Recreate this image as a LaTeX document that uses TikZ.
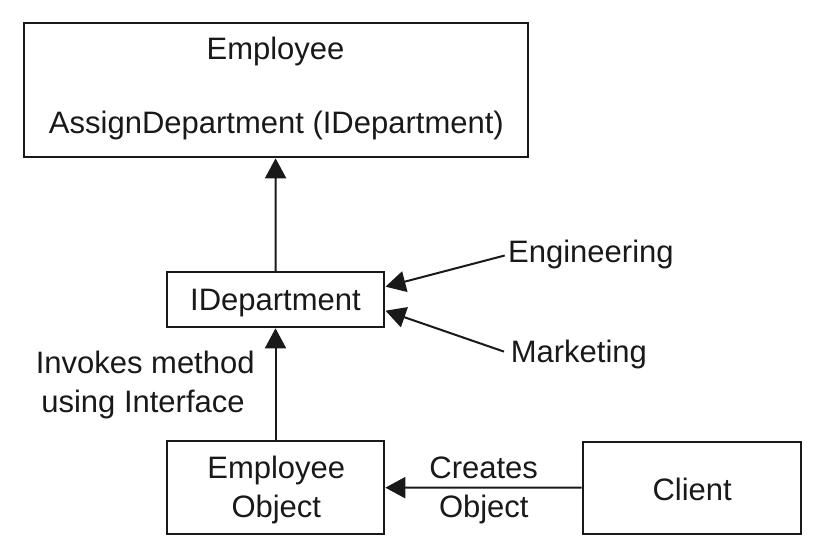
\documentclass[tikz,border=0pt]{standalone}
\usepackage{fontspec}
\setmainfont{Liberation Sans}
\usetikzlibrary{arrows.meta}
\begin{document}
\begin{tikzpicture}[x=1pt,y=-1pt,
  box/.style={draw=black!90, line width=2pt, rectangle, inner sep=0pt},
  txt/.style={anchor=base, inner sep=0pt, font=\fontsize{31}{37}\selectfont, text=black!90},
  arr/.style={line width=2pt, draw=black!90, -{Triangle[length=20pt,width=21pt]}}]
\useasboundingbox (0,0) rectangle (824,558);
% boxes
\node[box, minimum width=504pt, minimum height=134.6pt] (emp) at (275.6,90) {};
\node[box, minimum width=217.6pt, minimum height=55.3pt] (idept) at (275.5,299.65) {};
\node[box, minimum width=217.6pt, minimum height=92.7pt] (eobj) at (275.5,487.65) {};
\node[box, minimum width=218.6pt, minimum height=92pt] (client) at (692,487.7) {};
% texts
\node[txt] (empT) at (275.5,59.5) {Employee};
\node[txt] (assignT) at (276.4,133) {AssignDepartment (IDepartment)};
\node[txt] (ideptT) at (275.5,310.6) {IDepartment};
\node[txt] (eobjT1) at (276.3,478) {Employee};
\node[txt] (eobjT2) at (276.3,517) {Object};
\node[txt] (clientT) at (692.2,500) {Client};
\node[txt] (creT1) at (483.7,478) {Creates};
\node[txt] (creT2) at (483.8,517) {Object};
\node[txt] (invT1) at (145.2,373) {Invokes method};
\node[txt] (invT2) at (143,412.5) {using Interface};
\node[txt, anchor=base west] (eng) at (508,262) {Engineering};
\node[txt, anchor=base west] (mkt) at (510.6,362) {Marketing};
% connector end coordinates
\coordinate (engS) at (504.7,255.5);
\coordinate (mktS) at (504,351.6);
\coordinate (engE) at (385.5,286.7);
\coordinate (mktE) at (385.5,310.7);
% connectors
\draw[arr] (idept.north) -- (emp.south);
\draw[arr] (eobj.north) -- (idept.south);
\draw[arr] (client.west) -- (eobj.east);
\draw[arr] (engS) -- (engE);
\draw[arr] (mktS) -- (mktE);
\end{tikzpicture}
\end{document}
